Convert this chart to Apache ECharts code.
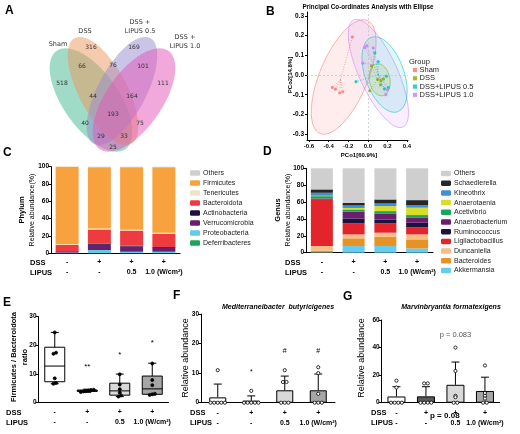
<!DOCTYPE html>
<html>
<head>
<meta charset="utf-8">
<script src="https://cdn.jsdelivr.net/npm/echarts@6/dist/echarts.min.js"></script>
<style>
  html, body { margin: 0; padding: 0; background: #fff; }
  #main { width: 520px; height: 434px; }
</style>
</head>
<body>
<div id="main"></div>
<script>
// ---------- data ----------
const groups = ['Sham', 'DSS', 'DSS+LIPUS 0.5', 'DSS+LIPUS 1.0'];
const dssRow = ['-', '+', '+', '+'];
const lipusRow = ['-', '-', '0.5', '1.0 (W/cm²)'];

// A: Venn of shared OTUs
const vennNames = ['Sham', 'DSS', 'DSS +\nLIPUS 0.5', 'DSS +\nLIPUS 1.0'];
const vennCounts = [518, 316, 169, 111, 66, 76, 101, 44, 164, 193, 40, 75, 29, 33, 25];

// B: PCoA scores [PCo1, PCo2]
const pcoSham = [[-0.157, 0.194], [-0.362, -0.063], [-0.287, -0.09], [-0.256, -0.085], [-0.33, -0.072]];
const pcoDSS = [[0.038, 0.046], [0.02, -0.08], [0.10, -0.022], [0.133, -0.029], [0.16, -0.02], [0.13, -0.05]];
const pcoL05 = [[0.072, 0.113], [0.106, 0.068], [-0.12, -0.034], [0.21, -0.064], [0.19, -0.006], [0.17, -0.07]];
const pcoL10 = [[-0.03, 0.14], [-0.01, 0.15], [0.055, 0.138], [-0.05, 0.06], [0.185, -0.1], [0.2, -0.075]];
// confidence ellipses: centre, half-axis u, half-axis v (data units)
const ellSham = [[-0.246, -0.01], [0.241, 0.287], [0.226, -0.047]];
const ellDSS = [[0.121, -0.024], [0.031, -0.081], [0.103, 0.010]];
const ellL05 = [[0.171, 0.0025], [0.133, -0.189], [0.188, 0.032]];
const ellL10 = [[0.108, 0.008], [0.251, -0.272], [0.177, 0.040]];

// C: phylum relative abundance (%), bottom to top
const phylumNames = ['Deferribacteres', 'Proteobacteria', 'Verrucomicrobia', 'Actinobacteria', 'Bacteroidota', 'Tenericutes', 'Firmicutes', 'Others'];
const phylumSham = [0.3, 0.5, 1.5, 0.3, 7.0, 0.8, 89.4, 0.2];
const phylumDSS = [0.3, 3.5, 6.0, 1.2, 16.5, 1.0, 71.0, 0.5];
const phylumL05 = [0.3, 1.5, 6.0, 1.0, 17.5, 1.0, 72.2, 0.5];
const phylumL10 = [0.3, 1.5, 4.5, 1.0, 15.0, 1.5, 75.7, 0.5];

// D: genus relative abundance (%), bottom to top
const genusNames = ['Akkermansia', 'Bacteroides', 'Duncaniella', 'Ligilactobacillus', 'Ruminococcus', 'Anaerobacterium', 'Acetivibrio', 'Anaerotaenia', 'Kineothrix', 'Schaedlerella', 'Others'];
const genusSham = [0.5, 2.0, 5.4, 55.1, 0.5, 0.8, 2.7, 0.5, 3.5, 4.0, 25.0];
const genusDSS = [7.9, 9.1, 4.7, 13.0, 5.9, 7.9, 2.8, 1.7, 3.0, 3.0, 41.0];
const genusL05 = [7.9, 11.1, 4.7, 11.0, 4.7, 7.1, 2.8, 5.9, 3.1, 4.8, 36.9];
const genusL10 = [5.1, 10.7, 5.9, 8.3, 5.5, 6.3, 2.8, 8.7, 3.1, 5.9, 37.7];

// E: Firmicutes / Bacteroidota ratio
const ratioPoints = [
  [6.5, 6.8, 8.4, 17.0, 17.4, 24.5],
  [3.6, 3.8, 4.0, 4.1, 4.3, 4.4],
  [2.0, 2.4, 3.4, 4.6, 6.2, 9.8],
  [2.6, 2.8, 3.0, 6.0, 7.8, 13.6]
];
const ratioBox = [ // min, q1, median, q3, max
  [6.5, 7.2, 12.7, 19.3, 24.5],
  [3.5, 3.8, 4.05, 4.3, 4.6],
  [2.0, 2.5, 4.0, 6.7, 9.9],
  [2.6, 2.8, 4.7, 9.2, 13.7]
];
const ratioMarks = ['', '**', '*', '*'];
const ratioMarkAt = [0, 12.5, 16.6, 20.9];

// F: Mediterraneibacter butyricigenes
const butyPoints = [[11, 0, 0, 0, 0, 0], [4, 0, 0, 0, 0, 0], [11, 7, 7, 0, 0, 0], [12, 10, 3, 0, 0, 0]];
const butyMean = [1.8, 0.7, 4.2, 4.2];
const butyErrTop = [6.3, 2.3, 9.0, 9.7];
const butyMarks = ['', '*', '#', '#'];
const butyMarkAt = [0, 10.2, 17.6, 17.6];

// G: Marvinbryantia formatexigens
const marvPoints = [[16, 11, 0, 0, 0, 0], [14, 14, 0, 0, 0, 0], [40, 23, 5, 4, 0, 0], [27, 7, 5, 3, 0, 0]];
const marvMean = [4.5, 4.6, 13.0, 8.5];
const marvErrTop = [11.6, 11.6, 29.5, 18.5];

// ---------- styling ----------
const FONT = 'Liberation Sans, Arial, sans-serif';
const groupColors = ['#F8766D', '#7CAE00', '#00BFC4', '#C77CFF'];
const phylumColors = ['#1aa55a', '#63cbe6', '#6d1d6e', '#1b1240', '#ee3b3f', '#ebe6c6', '#f8a23f', '#cfcfcf'];
const genusColors = ['#66cdf0', '#e89225', '#f6be86', '#e3252b', '#1b1240', '#6d1d6e', '#1aa55a', '#d8dd2a', '#3f8fd6', '#262626', '#cfcfcf'];
const barFills = ['#ffffff', '#ffffff', '#d9d9d9', '#a6a6a6'];
const barFillsG = ['#ffffff', '#5a5a5a', '#d9d9d9', '#a6a6a6'];

function transpose(rows) {
  return rows[0].map((_, i) => rows.map(r => r[i]));
}

function valAxis(grid, max, step, extra) {
  return Object.assign({
    type: 'value', gridIndex: grid, min: 0, max: max, interval: step,
    axisLine: { show: true, lineStyle: { color: '#000', width: 1 } },
    axisTick: { show: true, length: 3, lineStyle: { color: '#000' } },
    axisLabel: { fontFamily: FONT, fontWeight: 'bold', fontSize: 6.5, color: '#000', margin: 2 },
    splitLine: { show: false }
  }, extra || {});
}

function catAxis(grid, margin) {
  return {
    type: 'category', gridIndex: grid, data: groups,
    axisLine: { lineStyle: { color: '#000', width: 1 } },
    axisTick: { show: false },
    axisLabel: {
      interval: 0, formatter: (v, i) => dssRow[i] + '\n' + lipusRow[i],
      fontFamily: FONT, fontWeight: 'bold', fontSize: 7, lineHeight: 10, color: '#000', margin: margin
    }
  };
}

// spread equal values sideways like GraphPad scatter dots
function swarm(lists, step) {
  const out = [];
  lists.forEach((vals, gi) => {
    const used = [];
    vals.forEach(v => {
      const near = w => (v === 0 ? w === 0 : Math.abs(w - v) < 0.9);
      const n = vals.filter(near).length;
      const k = used.filter(near).length;
      used.push(v);
      out.push([gi, v, (k - (n - 1) / 2) * step]);
    });
  });
  return out;
}

function pointSeries(x, y, lists, step, filled, r) {
  return {
    type: 'custom', xAxisIndex: x, yAxisIndex: y, z: 5,
    data: swarm(lists, step),
    renderItem: (params, api) => {
      const p = api.coord([api.value(0), api.value(1)]);
      return {
        type: 'circle', shape: { cx: p[0] + api.value(2), cy: p[1], r: r },
        style: { fill: filled ? '#000' : '#fff', stroke: '#000', lineWidth: 0.8 }
      };
    }
  };
}

function errorSeries(x, y, means, tops) {
  return {
    type: 'custom', xAxisIndex: x, yAxisIndex: y, z: 4,
    data: means.map((m, i) => [i, m, tops[i]]),
    renderItem: (params, api) => {
      const a = api.coord([api.value(0), api.value(1)]);
      const b = api.coord([api.value(0), api.value(2)]);
      const s = { stroke: '#000', lineWidth: 1 };
      return {
        type: 'group', children: [
          { type: 'line', shape: { x1: a[0], y1: a[1], x2: b[0], y2: b[1] }, style: s },
          { type: 'line', shape: { x1: b[0] - 4, y1: b[1], x2: b[0] + 4, y2: b[1] }, style: s }
        ]
      };
    }
  };
}

function markSeries(x, y, marks, at, style) {
  return {
    type: 'custom', xAxisIndex: x, yAxisIndex: y, z: 6,
    data: marks.map((m, i) => [i, at[i]]),
    renderItem: (params, api) => {
      const p = api.coord([api.value(0), api.value(1)]);
      return {
        type: 'text', x: p[0], y: p[1],
        style: Object.assign({ text: marks[params.dataIndex], align: 'center', verticalAlign: 'middle', fontFamily: FONT, fontSize: 8, fill: '#000' }, style || {})
      };
    }
  };
}

function ellipseSeries(ell, fill, stroke) {
  return {
    type: 'custom', xAxisIndex: 0, yAxisIndex: 0, z: 1, silent: true,
    data: [0],
    renderItem: (params, api) => {
      const pts = [];
      for (let k = 0; k < 72; k++) {
        const t = k / 72 * Math.PI * 2;
        pts.push(api.coord([
          ell[0][0] + Math.cos(t) * ell[1][0] + Math.sin(t) * ell[2][0],
          ell[0][1] + Math.cos(t) * ell[1][1] + Math.sin(t) * ell[2][1]
        ]));
      }
      return { type: 'polygon', shape: { points: pts }, style: { fill: fill, stroke: stroke, lineWidth: 0.6 } };
    }
  };
}

function spiderSeries(pts, color) {
  const cx = pts.reduce((s, p) => s + p[0], 0) / pts.length;
  const cy = pts.reduce((s, p) => s + p[1], 0) / pts.length;
  return {
    type: 'custom', xAxisIndex: 0, yAxisIndex: 0, z: 2, silent: true,
    data: pts.map(p => [p[0], p[1]]),
    renderItem: (params, api) => {
      const a = api.coord([cx, cy]);
      const b = api.coord([api.value(0), api.value(1)]);
      return { type: 'line', shape: { x1: a[0], y1: a[1], x2: b[0], y2: b[1] }, style: { stroke: color, lineWidth: 0.6, lineDash: [1, 1.5] } };
    }
  };
}

// ---------- panel A: Venn (drawn as graphic polygons) ----------
// tilt > 0: top of the ellipse leans left, bottom swings right
const vennShapes = [
  { x: 91, y: 100, rx: 28, ry: 60, tilt: 0.61, fill: 'rgba(64,184,144,0.5)' },
  { x: 103, y: 91, rx: 24, ry: 60, tilt: 0.49, fill: 'rgba(238,150,90,0.5)' },
  { x: 122, y: 91, rx: 24, ry: 60, tilt: -0.49, fill: 'rgba(150,140,208,0.5)' },
  { x: 134, y: 100, rx: 28, ry: 60, tilt: -0.61, fill: 'rgba(228,84,184,0.5)' }
];
const vennNamePos = [[58, 44], [85, 31], [140, 27], [185, 42]];
const vennCountPos = [[62, 83], [91, 47], [134, 47], [163, 83], [82, 66], [113, 65], [143, 66], [93, 96], [132, 96],
  [113, 114], [85, 123], [140, 123], [101, 136], [124, 136], [113, 147]];

const graphics = [];
vennShapes.forEach(s => {
  const c = Math.cos(s.tilt), sn = Math.sin(s.tilt);
  const pts = [];
  for (let k = 0; k < 90; k++) {
    const t = k / 90 * Math.PI * 2;
    const lx = s.rx * Math.cos(t), ly = s.ry * Math.sin(t);
    pts.push([s.x + lx * c + ly * sn, s.y - lx * sn + ly * c]);
  }
  graphics.push({ type: 'polygon', shape: { points: pts }, style: { fill: s.fill, stroke: 'none' } });
});
vennNames.forEach((n, i) => graphics.push({
  type: 'text', x: vennNamePos[i][0], y: vennNamePos[i][1],
  style: { text: n, align: 'center', verticalAlign: 'middle', fontFamily: 'DejaVu Sans', fontSize: 6.5, lineHeight: 9, fill: '#333' }
}));
vennCounts.forEach((c, i) => graphics.push({
  type: 'text', x: vennCountPos[i][0], y: vennCountPos[i][1],
  style: { text: String(c), align: 'center', verticalAlign: 'middle', fontFamily: 'DejaVu Sans', fontSize: 6, fill: '#333' }
}));

// panel letters
[['A', 5, 11], ['B', 266, 12], ['C', 3, 153], ['D', 263, 152], ['E', 3, 303], ['F', 173, 296], ['G', 343, 297]].forEach(l => graphics.push({
  type: 'text', x: l[1], y: l[2],
  style: { text: l[0], fontFamily: FONT, fontWeight: 'bold', fontSize: 12, verticalAlign: 'middle', fill: '#000' }
}));

function addText(t, x, y, o) {
  graphics.push({ type: 'text', x: x, y: y, rotation: (o && o.rot) || 0,
    style: Object.assign({ text: t, fontFamily: FONT, fontSize: 7, fill: '#000', align: 'left', verticalAlign: 'middle' }, o || {}) });
}
const nameRich = {
  b: { fontFamily: FONT, fontWeight: 'bold', fontSize: 7.5, lineHeight: 10 },
  n: { fontFamily: FONT, fontSize: 7, lineHeight: 10 }
};
// B texts
addText('Principal Co-ordinates Analysis with Ellipse', 368, 7, { fontWeight: 'bold', fontSize: 6.3, align: 'center' });
addText('PCo1[60.9%]', 359, 155, { fontWeight: 'bold', fontSize: 6, align: 'center' });
addText('PCo2[14.8%]', 290, 75, { fontWeight: 'bold', fontSize: 6, align: 'center', rot: Math.PI / 2 });
addText('Group', 409, 62, { fontSize: 7.5, fill: '#222' });
// C / D / E / F / G axis names
addText('{b|Phylum}\n{n|Relative abundance(%)}', 27, 210, { align: 'center', rot: Math.PI / 2, rich: nameRich });
addText('{b|Genus}\n{n|Relative abundance(%)}', 283, 210, { align: 'center', rot: Math.PI / 2, rich: nameRich });
addText('Firmicutes / Bacteroidota\nratio', 19.5, 357, { fontSize: 7.5, fontWeight: 'bold', lineHeight: 11, align: 'center', rot: Math.PI / 2 });
addText('Relative abundance', 186, 358, { fontSize: 9, align: 'center', rot: Math.PI / 2 });
addText('Relative abundance', 362, 358, { fontSize: 9, align: 'center', rot: Math.PI / 2 });
addText('Mediterraneibacter  butyricigenes', 278, 307, { fontSize: 7, fontWeight: 'bold', fontStyle: 'italic', align: 'center' });
addText('Marvinbryantia formatexigens', 451, 307, { fontSize: 7, fontWeight: 'bold', fontStyle: 'italic', align: 'center' });
addText('p = 0.08', 430, 416, { fontSize: 8, fontWeight: 'bold' });
// row headers
[[30, 262.7, 272.7], [285, 262.7, 272.7], [6, 412.7, 422.7], [190, 412.7, 422.7], [371, 412.7, 422.7]].forEach(r => {
  addText('DSS', r[0], r[1], { fontWeight: 'bold', fontSize: 7.5 });
  addText('LIPUS', r[0], r[2], { fontWeight: 'bold', fontSize: 7.5 });
});

// ---------- chart ----------
const chart = echarts.init(document.getElementById('main'), null, { renderer: 'canvas' });

const phylumByName = transpose([phylumSham, phylumDSS, phylumL05, phylumL10]);
const genusByName = transpose([genusSham, genusDSS, genusL05, genusL10]);
const pcoSets = [pcoSham, pcoDSS, pcoL05, pcoL10];

const series = [];
// B
series.push(ellipseSeries(ellSham, 'rgba(248,118,109,0.13)', 'rgba(248,118,109,0.9)'));
series.push(ellipseSeries(ellL10, 'rgba(199,124,255,0.13)', 'rgba(199,124,255,0.9)'));
series.push(ellipseSeries(ellL05, 'rgba(0,191,196,0.13)', 'rgba(0,191,196,0.9)'));
series.push(ellipseSeries(ellDSS, 'rgba(124,174,0,0.13)', 'rgba(124,174,0,0.9)'));
pcoSets.forEach((pts, i) => series.push(spiderSeries(pts, groupColors[i])));
pcoSets.forEach((pts, i) => series.push({
  type: 'scatter', name: groups[i], xAxisIndex: 0, yAxisIndex: 0, z: 3,
  symbolSize: 3.2, itemStyle: { color: groupColors[i] }, data: pts,
  markLine: i === 0 ? {
    silent: true, symbol: 'none', label: { show: false },
    lineStyle: { color: '#bbb', type: [2, 2], width: 0.6 },
    data: [{ xAxis: 0 }, { yAxis: 0 }]
  } : undefined
}));
// C
phylumNames.forEach((n, i) => series.push({
  type: 'bar', name: n, stack: 'phylum', xAxisIndex: 1, yAxisIndex: 1,
  barWidth: 23, itemStyle: { color: phylumColors[i] }, data: phylumByName[i]
}));
// D
genusNames.forEach((n, i) => series.push({
  type: 'bar', name: n === 'Others' ? 'Others ' : n, stack: 'genus', xAxisIndex: 2, yAxisIndex: 2,
  barWidth: 22, itemStyle: { color: genusColors[i] }, data: genusByName[i]
}));
// E: box plots
series.push({
  type: 'custom', xAxisIndex: 3, yAxisIndex: 3, z: 3,
  data: ratioBox.map((b, i) => [i].concat(b)),
  renderItem: (params, api) => {
    const i = api.value(0);
    const w = 20;
    const p = [1, 2, 3, 4, 5].map(k => api.coord([i, api.value(k)]));
    const x = p[0][0];
    const s = { stroke: '#000', lineWidth: 1 };
    return {
      type: 'group', children: [
        { type: 'line', shape: { x1: x, y1: p[4][1], x2: x, y2: p[0][1] }, style: s },
        { type: 'rect', shape: { x: x - w / 2, y: p[3][1], width: w, height: p[1][1] - p[3][1] }, style: { fill: barFills[i], stroke: '#000', lineWidth: 1 } },
        { type: 'line', shape: { x1: x - w / 2, y1: p[2][1], x2: x + w / 2, y2: p[2][1] }, style: s },
        { type: 'line', shape: { x1: x - 4, y1: p[4][1], x2: x + 4, y2: p[4][1] }, style: s },
        { type: 'line', shape: { x1: x - 4, y1: p[0][1], x2: x + 4, y2: p[0][1] }, style: s }
      ]
    };
  }
});
series.push(pointSeries(3, 3, ratioPoints, 2.6, true, 1.5));
series.push(markSeries(3, 3, ratioMarks, ratioMarkAt, { fontSize: 8 }));
// F
series.push({
  type: 'bar', xAxisIndex: 4, yAxisIndex: 4, barWidth: 17, z: 2,
  data: butyMean.map((m, i) => ({ value: m, itemStyle: { color: barFills[i], borderColor: '#000', borderWidth: 1 } }))
});
series.push(errorSeries(4, 4, butyMean, butyErrTop));
series.push(pointSeries(4, 4, butyPoints, 3.6, false, 1.6));
series.push(markSeries(4, 4, butyMarks, butyMarkAt, { fontSize: 7 }));
// G
series.push({
  type: 'bar', xAxisIndex: 5, yAxisIndex: 5, barWidth: 18, z: 2,
  data: marvMean.map((m, i) => ({ value: m, itemStyle: { color: barFillsG[i], borderColor: '#000', borderWidth: 1 } }))
});
series.push(errorSeries(5, 5, marvMean, marvErrTop));
series.push(pointSeries(5, 5, marvPoints, 3.6, false, 1.6));
series.push(markSeries(5, 5, ['', '', 'p = 0.083', ''], [0, 0, 49, 0], { fontSize: 7.5, fill: '#555' }));

const option = {
  animation: false,
  backgroundColor: '#fff',
  textStyle: { fontFamily: FONT },
  grid: [
    { left: 307, top: 12, width: 101, height: 128 },      // B
    { left: 51, top: 166.7, width: 129, height: 86.6 },   // C
    { left: 306, top: 168.3, width: 127, height: 84.4 },  // D
    { left: 38.5, top: 316.7, width: 130, height: 85.6 }, // E
    { left: 201, top: 314, width: 134, height: 88.7 },    // F
    { left: 381.7, top: 320, width: 118, height: 82.7 }   // G
  ],
  xAxis: [
    {
      type: 'value', gridIndex: 0, min: -0.62, max: 0.41,
      axisLine: { onZero: false, lineStyle: { color: '#000', width: 1 } },
      axisTick: { length: 2, customValues: [-0.6, -0.4, -0.2, 0, 0.2, 0.4], lineStyle: { color: '#000' } },
      axisLabel: { customValues: [-0.6, -0.4, -0.2, 0, 0.2, 0.4], formatter: v => v.toFixed(1), fontFamily: FONT, fontWeight: 'bold', fontSize: 6, color: '#000', margin: 3 },
      splitLine: { show: false }
    },
    catAxis(1, 4), catAxis(2, 4), catAxis(3, 5), catAxis(4, 5), catAxis(5, 5)
  ],
  yAxis: [
    {
      type: 'value', gridIndex: 0, min: -0.33, max: 0.32,
      axisLine: { show: true, onZero: false, lineStyle: { color: '#000', width: 1 } },
      axisTick: { length: 2, customValues: [-0.3, -0.2, -0.1, 0, 0.1, 0.2, 0.3], lineStyle: { color: '#000' } },
      axisLabel: { customValues: [-0.3, -0.2, -0.1, 0, 0.1, 0.2, 0.3], formatter: v => v.toFixed(1), fontFamily: FONT, fontWeight: 'bold', fontSize: 6.5, color: '#000', margin: 3 },
      splitLine: { show: false }
    },
    valAxis(1, 100, 20),
    valAxis(2, 100, 20),
    valAxis(3, 30, 10),
    valAxis(4, 30, 10),
    valAxis(5, 60, 20)
  ],
  legend: [
    {
      data: groups.map((g, i) => ({ name: g, icon: 'rect', itemStyle: { color: groupColors[i], borderColor: '#fff', borderWidth: 1 } })),
      orient: 'vertical', left: 412, top: 66, itemWidth: 5, itemHeight: 5, itemGap: 0.3, padding: 0,
      textStyle: { fontFamily: FONT, fontSize: 7.5, lineHeight: 6, color: '#222', padding: [0, 0, 0, -3] },
      selectedMode: false
    },
    {
      data: phylumNames.slice().reverse(),
      orient: 'vertical', left: 190, top: 169.5, itemWidth: 10, itemHeight: 5.5, itemGap: 3, padding: 0,
      textStyle: { fontFamily: FONT, fontSize: 7, lineHeight: 7, color: '#222', padding: [0, 0, 0, -2] },
      selectedMode: false
    },
    {
      data: genusNames.slice().reverse().map(n => n === 'Others' ? 'Others ' : n),
      orient: 'vertical', left: 441, top: 170, itemWidth: 10, itemHeight: 5.5, itemGap: 2.7, padding: 0,
      textStyle: { fontFamily: FONT, fontSize: 7, lineHeight: 7, color: '#222', padding: [0, 0, 0, -2] },
      selectedMode: false
    }
  ],
  graphic: graphics,
  series: series
};
chart.setOption(option);
</script>
</body>
</html>
